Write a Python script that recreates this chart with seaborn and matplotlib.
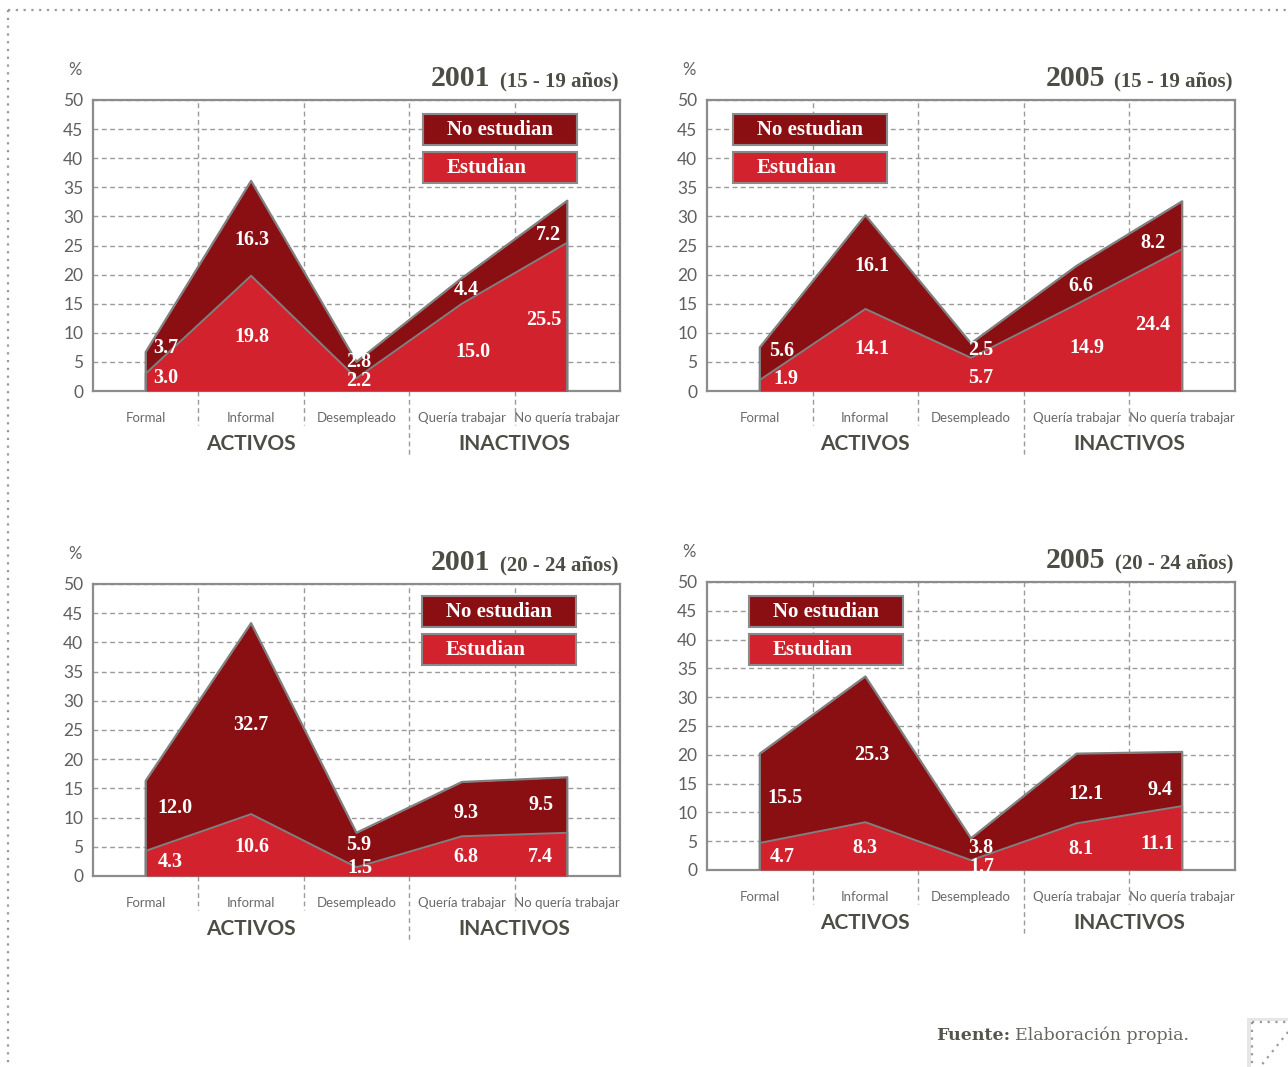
import numpy as np
import matplotlib
matplotlib.use("Agg")
import matplotlib.pyplot as plt
import matplotlib.transforms as mtransforms
from matplotlib.patches import Rectangle, Polygon
from matplotlib.lines import Line2D
import seaborn as sns
import pandas as pd

# ---------------- data ----------------
categories = ["Formal", "Informal", "Desempleado", "Quería trabajar", "No quería trabajar"]
group_labels = ["ACTIVOS", "INACTIVOS"]
legend_labels = ["No estudian", "Estudian"]
yticks = list(range(0, 51, 5))

years = ["2001", "2005", "2001", "2005"]
ages = ["(15 - 19 años)", "(15 - 19 años)", "(20 - 24 años)", "(20 - 24 años)"]

estudian_2001_15_19 = [3.0, 19.8, 2.2, 15.0, 25.5]
no_estudian_2001_15_19 = [3.7, 16.3, 2.8, 4.4, 7.2]
estudian_2005_15_19 = [1.9, 14.1, 5.7, 14.9, 24.4]
no_estudian_2005_15_19 = [5.6, 16.1, 2.5, 6.6, 8.2]
estudian_2001_20_24 = [4.3, 10.6, 1.5, 6.8, 7.4]
no_estudian_2001_20_24 = [12.0, 32.7, 5.9, 9.3, 9.5]
estudian_2005_20_24 = [4.7, 8.3, 1.7, 8.1, 11.1]
no_estudian_2005_20_24 = [15.5, 25.3, 3.8, 12.1, 9.4]

# label placement (data coords) for value annotations
lab_est = [
    [(0.19, 2.2), (1.01, 9.3), (2.02, 1.7), (3.10, 6.7), (3.78, 12.2)],
    [(0.25, 2.1), (1.06, 7.2), (2.09, 2.2), (3.10, 7.4), (3.72, 11.3)],
    [(0.23, 2.4), (1.01, 4.9), (2.03, 1.4), (3.04, 3.25), (3.74, 3.25)],
    [(0.21, 2.25), (1.00, 3.8), (2.10, 0.5), (3.04, 3.65), (3.76, 4.5)],
]
lab_noest = [
    [(0.19, 7.4), (1.01, 25.9), (2.02, 5.0), (3.04, 17.4), (3.82, 26.8)],
    [(0.21, 6.9), (1.06, 21.5), (2.09, 7.0), (3.04, 18.0), (3.72, 25.4)],
    [(0.28, 11.6), (1.00, 25.9), (2.02, 5.3), (3.04, 10.8), (3.75, 12.2)],
    [(0.24, 12.5), (1.06, 19.97), (2.09, 3.8), (3.09, 13.2), (3.79, 13.9)],
]

# ---------------- style ----------------
sns.set_style("white")
plt.rcParams['font.family'] = ['Lato', 'DejaVu Sans']

W, H = 1288, 1067
DARK = "#8A0F13"
RED = "#D2222D"
EDGE = "#808080"
FRAME = "#8c8c8c"
GRID = "#9a9a9a"
TXT = "#4d4d45"
TICK = "#5f5f5f"
SERIF = ['Liberation Serif', 'DejaVu Serif']

fig = plt.figure(figsize=(W / 100, H / 100), dpi=100)
fig.patch.set_facecolor("white")


def fx(px):
    return px / W


def fy(py):
    return 1 - py / H


# axes rects in pixels: left, top, right, bottom
rects = [(93, 100, 620, 391), (707, 100, 1235, 391),
         (93, 584, 620, 876), (707, 582, 1235, 870)]
legend_x = [423, 733, 422, 749]
legend_y = [(114, 152), (114, 152), (596, 634), (596, 634)]

est_all = [estudian_2001_15_19, estudian_2005_15_19, estudian_2001_20_24, estudian_2005_20_24]
noest_all = [no_estudian_2001_15_19, no_estudian_2005_15_19, no_estudian_2001_20_24, no_estudian_2005_20_24]

renderer = fig.canvas.get_renderer()

for i in range(4):
    L, T, R, B = rects[i]
    ax = fig.add_axes([fx(L), fy(B), (R - L) / W, (B - T) / H])
    est = np.array(est_all[i])
    noest = np.array(noest_all[i])
    top = est + noest
    x = np.arange(len(categories))

    ax.fill_between(x, 0, top, color=DARK, lw=0, zorder=2)
    ax.fill_between(x, 0, est, color=RED, lw=0, zorder=3)

    outline = pd.DataFrame({"x": np.concatenate([[0], x, [4]]),
                            "y": np.concatenate([[0], top, [0]])})
    sns.lineplot(data=outline, x="x", y="y", sort=False, estimator=None,
                 color=EDGE, lw=1.6, ax=ax, zorder=5)
    inner = pd.DataFrame({"x": np.concatenate([[0], x, [4]]),
                          "y": np.concatenate([[0], est, [0]])})
    sns.lineplot(data=inner, x="x", y="y", sort=False, estimator=None,
                 color=EDGE, lw=1.4, ax=ax, zorder=5)

    ax.set_xlim(-0.5, 4.5)
    ax.set_ylim(0, 50)
    ax.set_xlabel("")
    ax.set_ylabel("")
    ax.set_yticks(yticks)
    ax.set_yticklabels([str(v) for v in yticks], fontsize=12.5, color=TICK)
    ax.set_xticks(x)
    ax.set_xticklabels(categories, fontsize=9.5, color="#6a6a6a")
    ax.set_xticks([0.5, 1.5, 2.5, 3.5], minor=True)
    ax.tick_params(axis='both', which='both', length=0)
    ax.tick_params(axis='x', which='major', pad=15)
    ax.tick_params(axis='y', pad=7)
    ax.set_axisbelow(True)
    ax.yaxis.grid(True, ls=(0, (3.5, 2.5)), color=GRID, lw=1)
    ax.xaxis.grid(True, which='minor', ls=(0, (3.5, 2.5)), color=GRID, lw=1)
    ax.xaxis.grid(False, which='major')
    for s in ax.spines.values():
        s.set_visible(True)
        s.set_color(FRAME)
        s.set_linewidth(1.6)

    # separators below the axis
    trans = mtransforms.blended_transform_factory(ax.transData, ax.transAxes)
    hpx = B - T
    for xv in [0.5, 1.5, 2.5, 3.5]:
        depth = 64 if xv == 2.5 else 34
        ax.plot([xv, xv], [0, -depth / hpx], transform=trans, clip_on=False,
                ls=(0, (3.5, 2.5)), color=GRID, lw=1)

    ax.text(1, -53 / hpx, group_labels[0], transform=trans, ha='center', va='center',
            fontsize=15, fontweight='bold', color=TXT)
    ax.text(3.5, -53 / hpx, group_labels[1], transform=trans, ha='center', va='center',
            fontsize=15, fontweight='bold', color=TXT)

    # value labels
    for j in range(5):
        xe, ye = lab_est[i][j]
        ax.text(xe, ye, f"{est[j]:.1f}", ha='center', va='center', fontsize=14.5,
                fontweight='bold', color='white', family=SERIF, zorder=6)
        xn, yn = lab_noest[i][j]
        ax.text(xn, yn, f"{noest[j]:.1f}", ha='center', va='center', fontsize=14.5,
                fontweight='bold', color='white', family=SERIF, zorder=6)

    # legend boxes
    lx = legend_x[i]
    for k, (lab, col) in enumerate(zip(legend_labels, [DARK, RED])):
        ty = legend_y[i][k]
        fig.add_artist(Rectangle((fx(lx), fy(ty + 31)), 154 / W, 31 / H,
                                 transform=fig.transFigure, facecolor=col,
                                 edgecolor="#8a8a8a", lw=1.5, zorder=10))
        fig.text(fx(lx + 24), fy(ty + 16), lab, ha='left', va='center',
                 fontsize=15, fontweight='bold', color='white', family=SERIF, zorder=11)

    # titles
    tb = fig.text(fx(R - 2), fy(T - 14), ages[i], ha='right', va='baseline',
                  fontsize=15, fontweight='bold', color=TXT, family=SERIF)
    bb = tb.get_window_extent(renderer)
    fig.text((bb.x0 - 9) / W, fy(T - 14), years[i], ha='right', va='baseline',
             fontsize=21.5, fontweight='bold', color=TXT, family=SERIF)
    fig.text(fx(L - 18), fy(T - 30), "%", ha='center', va='center',
             fontsize=12, color=TICK)

# source
f1 = fig.text(fx(936), fy(1040), "Fuente:", ha='left', va='baseline', fontsize=12.5,
              fontweight='bold', color="#55554d", family=['DejaVu Serif'])
b1 = f1.get_window_extent(renderer)
fig.text((b1.x1 + 5) / W, fy(1040), "Elaboración propia.", ha='left', va='baseline',
         fontsize=12.5, color="#66665e", family=['DejaVu Serif'], fontweight='light')

# dotted page frame
dot = dict(ls=(0, (1, 2.5)), color="#9a9a9a", lw=1.6, transform=fig.transFigure)
fig.add_artist(Line2D([fx(8), 1], [fy(10), fy(10)], **dot))
fig.add_artist(Line2D([fx(8), fx(8)], [fy(10), 0], **dot))

# folded corner
fig.add_artist(Polygon([(fx(1247), fy(1018)), (fx(1288), fy(1018)), (fx(1288), 0), (fx(1247), 0)],
                       closed=True, transform=fig.transFigure, facecolor="#e6e6e6",
                       edgecolor='none', zorder=1))
fig.add_artist(Polygon([(fx(1251), fy(1021)), (fx(1288), fy(1021)), (fx(1288), 0), (fx(1251), 0)],
                       closed=True, transform=fig.transFigure, facecolor="white",
                       edgecolor='none', zorder=2))
fig.add_artist(Line2D([fx(1252), 1], [fy(1022), fy(1022)], **dot))
fig.add_artist(Line2D([fx(1252), fx(1252)], [fy(1022), 0], **dot))
fig.add_artist(Line2D([1, fx(1260)], [fy(1032), 0], **dot))

fig.savefig("out.png", dpi=100)
